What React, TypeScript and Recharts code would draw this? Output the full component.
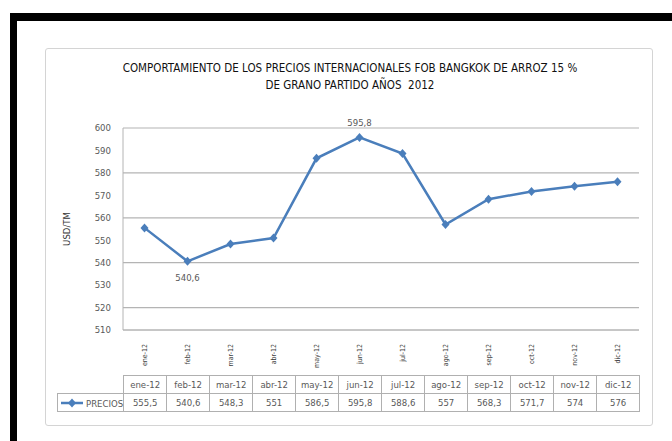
import { LineChart, Line, XAxis, YAxis, CartesianGrid, LabelList } from "recharts";

const categories = ["ene-12", "feb-12", "mar-12", "abr-12", "may-12", "jun-12", "jul-12", "ago-12", "sep-12", "oct-12", "nov-12", "dic-12"];
const precios = [555.5, 540.6, 548.3, 551, 586.5, 595.8, 588.6, 557, 568.3, 571.7, 574, 576];
const yTicks = [510, 520, 530, 540, 550, 560, 570, 580, 590, 600];
const seriesName = "PRECIOS";
const titleLines = [
  "COMPORTAMIENTO DE LOS PRECIOS INTERNACIONALES FOB BANGKOK DE ARROZ 15 %",
  "DE GRANO PARTIDO AÑOS  2012",
];
const yLabel = "USD/TM";

const BLUE = "#4a7ebb";
const GRID = "#b4b4b4";
const TEXT = "#595959";
const FONT = '"Liberation Sans Narrow", "DejaVu Sans Condensed", "Liberation Sans", sans-serif';

const data = categories.map((mes, i) => ({ mes, precio: precios[i] }));
const fmt = (v: number) => String(v).replace(".", ",");
const minV = Math.min(...precios);
const maxV = Math.max(...precios);

function Diamond(props: any) {
  const { cx, cy, index } = props;
  if (cx == null || cy == null) return null;
  return (
    <path
      key={`d-${index}`}
      d={`M${cx},${cy - 4.5}L${cx + 4},${cy}L${cx},${cy + 4.5}L${cx - 4},${cy}Z`}
      fill={BLUE}
    />
  );
}

// only the lowest and highest month get a value label, like the original
function ExtremeLabel(props: any) {
  const { x, y, value } = props;
  if (value !== minV && value !== maxV) return null;
  const below = value === minV;
  return (
    <text x={x} y={below ? y + 16 : y - 15} textAnchor="middle" dy="0.35em" fontSize={9.5} fill={TEXT} fontFamily={FONT}>
      {fmt(value)}
    </text>
  );
}

function MonthTick(props: any) {
  const { x, y, payload } = props;
  const ty = y + 6;
  return (
    <text x={x} y={ty} transform={`rotate(-90,${x},${ty})`} textAnchor="end" dy="0.35em" fontSize={7} fill="#404040" fontFamily={FONT}>
      {payload.value}
    </text>
  );
}

const cell: React.CSSProperties = {
  border: "1px solid #b0b0b0",
  padding: 0,
  height: 17,
  textAlign: "center",
  fontSize: 9.5,
  color: TEXT,
  fontFamily: FONT,
  whiteSpace: "nowrap",
};

export default function App() {
  return (
    <div style={{ position: "absolute", left: 0, top: 0, width: 672, height: 441, background: "#fff", overflow: "hidden" }}>
      <div
        style={{
          position: "absolute", left: 10, top: 13, width: 680, height: 426,
          borderTop: "8px solid #000", borderLeft: "7px solid #000", borderBottom: "2px solid #333",
        }}
      />
      <div
        style={{
          position: "absolute", left: 45, top: 48, width: 606, height: 376,
          border: "1.5px solid #d4d4d4", borderRadius: 3,
        }}
      />
      <div style={{ position: "absolute", left: 0, top: 60, width: 700, textAlign: "center", fontFamily: FONT, fontSize: 11.5, color: "#111", lineHeight: "17px" }}>
        {titleLines.map((t) => (
          <div key={t} style={{ whiteSpace: "pre" }}>{t}</div>
        ))}
      </div>
      <div style={{ position: "absolute", left: 0, top: 0 }}>
        <LineChart width={672} height={441} data={data} margin={{ top: 128, right: 33, bottom: 71, left: 83 }}>
          <CartesianGrid vertical={false} stroke={GRID} strokeWidth={1.2} />
          <XAxis
            dataKey="mes"
            height={40}
            padding={{ left: 21.5, right: 21.5 }}
            axisLine={{ stroke: GRID }}
            tickLine={false}
            tick={<MonthTick />}
            interval={0}
          />
          <YAxis
            width={40}
            domain={[510, 600]}
            ticks={yTicks}
            axisLine={{ stroke: GRID }}
            tickLine={false}
            tick={{ fontSize: 9.5, fill: TEXT, fontFamily: FONT }}
            tickMargin={6}
            label={{
              content: (p: any) => {
                const vb = p.viewBox;
                const lx = vb.x - 16;
                const ly = vb.y + vb.height / 2;
                return (
                  <text x={lx} y={ly} transform={`rotate(-90,${lx},${ly})`} textAnchor="middle" dy="0.35em" fontSize={9.5} fill="#333" fontFamily={FONT}>
                    {yLabel}
                  </text>
                );
              },
            }}
          />
          <Line
            dataKey="precio"
            name={seriesName}
            type="linear"
            stroke={BLUE}
            strokeWidth={2.5}
            dot={<Diamond />}
            activeDot={false}
            isAnimationActive={false}
          >
            <LabelList dataKey="precio" content={<ExtremeLabel />} />
          </Line>
        </LineChart>
      </div>
      <table style={{ position: "absolute", left: 57, top: 375, borderCollapse: "collapse", tableLayout: "fixed" }}>
        <colgroup>
          <col style={{ width: 66 }} />
          {categories.map((c) => (
            <col key={c} style={{ width: 43 }} />
          ))}
        </colgroup>
        <tbody>
          <tr>
            <td style={{ ...cell, border: "none", borderRight: "1px solid #b0b0b0" }} />
            {categories.map((c) => (
              <td key={c} style={cell}>{c}</td>
            ))}
          </tr>
          <tr>
            <td style={{ ...cell, textAlign: "left" }}>
              <svg width={24} height={10} style={{ verticalAlign: "middle", marginLeft: 2 }}>
                <line x1={1} y1={5} x2={23} y2={5} stroke={BLUE} strokeWidth={2.5} />
                <path d="M12,0.5L16,5L12,9.5L8,5Z" fill={BLUE} />
              </svg>
              <span style={{ verticalAlign: "middle", marginLeft: 2 }}>{seriesName}</span>
            </td>
            {precios.map((v, i) => (
              <td key={categories[i]} style={cell}>{fmt(v)}</td>
            ))}
          </tr>
        </tbody>
      </table>
    </div>
  );
}
